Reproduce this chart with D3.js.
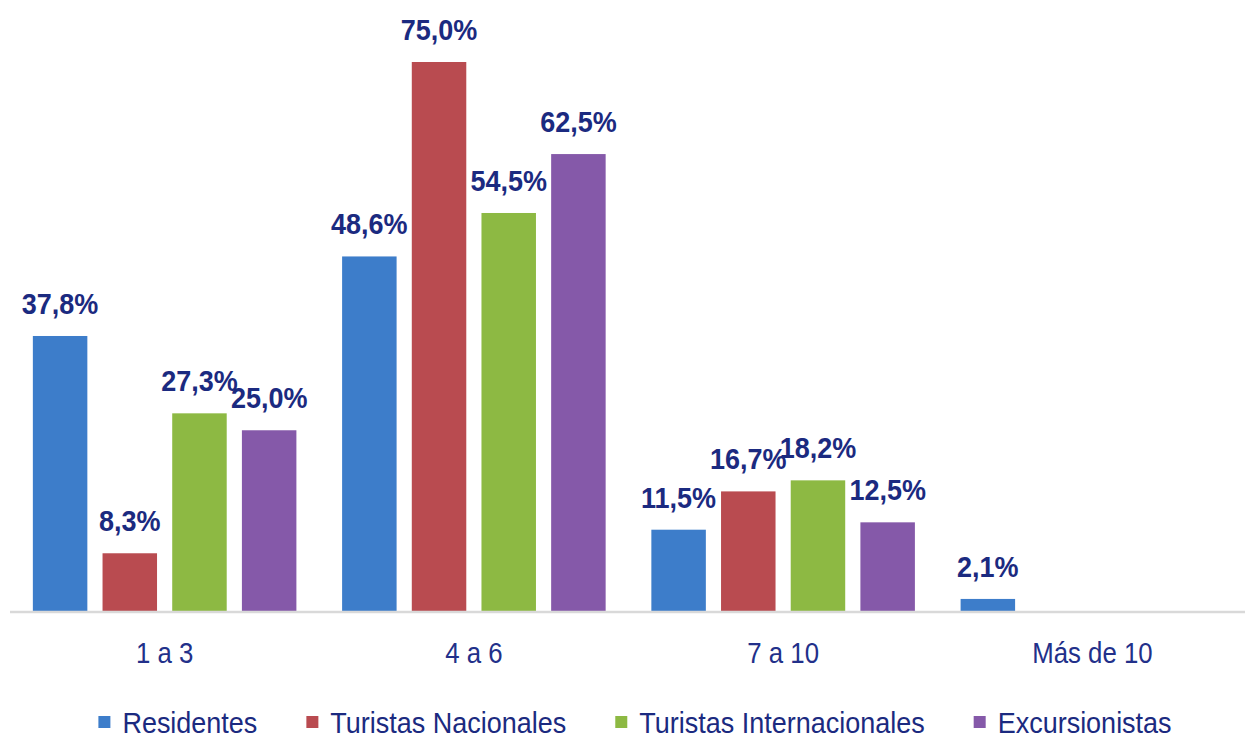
<!DOCTYPE html>
<html>
<head>
<meta charset="utf-8">
<script src="https://cdn.jsdelivr.net/npm/d3@7"></script>
<style>
  html, body { margin: 0; padding: 0; background: #ffffff; }
  svg { display: block; }
  text { font-family: "Liberation Sans", Arial, sans-serif; }
</style>
</head>
<body>
<svg id="chart" width="1245" height="738"></svg>
<script>
const categories = ["1 a 3", "4 a 6", "7 a 10", "Más de 10"];
const seriesNames = ["Residentes", "Turistas Nacionales", "Turistas Internacionales", "Excursionistas"];
const residentes = [37.8, 48.6, 11.5, 2.1];
const turistasNacionales = [8.3, 75.0, 16.7, null];
const turistasInternacionales = [27.3, 54.5, 18.2, null];
const excursionistas = [25.0, 62.5, 12.5, null];
const seriesColors = ["#3D7DCA", "#B94B50", "#8DB943", "#8559A9"];

const seriesValues = [residentes, turistasNacionales, turistasInternacionales, excursionistas];

const svg = d3.select("#chart");
const W = 1245, H = 738;

const axisY = 611;
const x0 = d3.scaleBand().domain(categories).range([10, 1247]).paddingInner(0).paddingOuter(0);
const x1 = d3.scaleBand().domain(seriesNames).range([0, x0.bandwidth()]).paddingInner(0.218).paddingOuter(0.328);
const y = d3.scaleLinear().domain([0, 75]).range([614.4, 62]);

const fmt = v => d3.format(".1f")(v).replace(".", ",") + "%";

const data = [];
categories.forEach((c, ci) => {
  seriesNames.forEach((s, si) => {
    const v = seriesValues[si][ci];
    if (v !== null && v !== undefined) data.push({ c, s, si, v });
  });
});

// bars
svg.append("g").selectAll("rect").data(data).join("rect")
  .attr("x", d => x0(d.c) + x1(d.s))
  .attr("y", d => y(d.v))
  .attr("width", x1.bandwidth())
  .attr("height", d => axisY - y(d.v))
  .attr("fill", d => seriesColors[d.si]);

// axis line
svg.append("line")
  .attr("x1", 10).attr("x2", W)
  .attr("y1", axisY + 1).attr("y2", axisY + 1)
  .attr("stroke", "#D9D9D9").attr("stroke-width", 2.5);

// category labels via d3 axis
const xAxis = d3.axisBottom(x0).tickSize(0).tickPadding(0);
const gx = svg.append("g").attr("transform", `translate(0, ${axisY})`).call(xAxis);
gx.select(".domain").remove();
gx.selectAll(".tick text")
  .attr("y", 0)
  .attr("dy", 0)
  .attr("transform", "translate(0,52) scale(0.86,1)")
  .attr("fill", "#22308A")
  .style("font-family", '"Liberation Sans", Arial, sans-serif')
  .style("font-size", "30px");

// value labels
svg.append("g").selectAll("text").data(data).join("text")
  .attr("transform", d => `translate(${x0(d.c) + x1(d.s) + x1.bandwidth() / 2},${y(d.v) - 22}) scale(0.9,1)`)
  .attr("text-anchor", "middle")
  .attr("fill", "#1B2A80")
  .style("font-weight", "bold")
  .style("font-size", "30px")
  .text(d => fmt(d.v));

// legend
const legend = svg.append("g");
const items = legend.selectAll("g").data(seriesNames).join("g");
items.append("rect")
  .attr("width", 12).attr("height", 12)
  .attr("y", 716)
  .attr("fill", (d, i) => seriesColors[i]);
const lt = items.append("text")
  .attr("transform", "translate(24,733) scale(0.9,1)")
  .attr("fill", "#1B2A80")
  .style("font-size", "30px")
  .text(d => d);
const widths = [];
lt.each(function() { widths.push(24 + this.getComputedTextLength() * 0.9); });
const gap = 49;
const total = d3.sum(widths) + gap * (widths.length - 1);
let xpos = 635 - total / 2;
items.attr("transform", (d, i) => {
  const t = `translate(${xpos},0)`;
  xpos += widths[i] + gap;
  return t;
});
</script>
</body>
</html>
